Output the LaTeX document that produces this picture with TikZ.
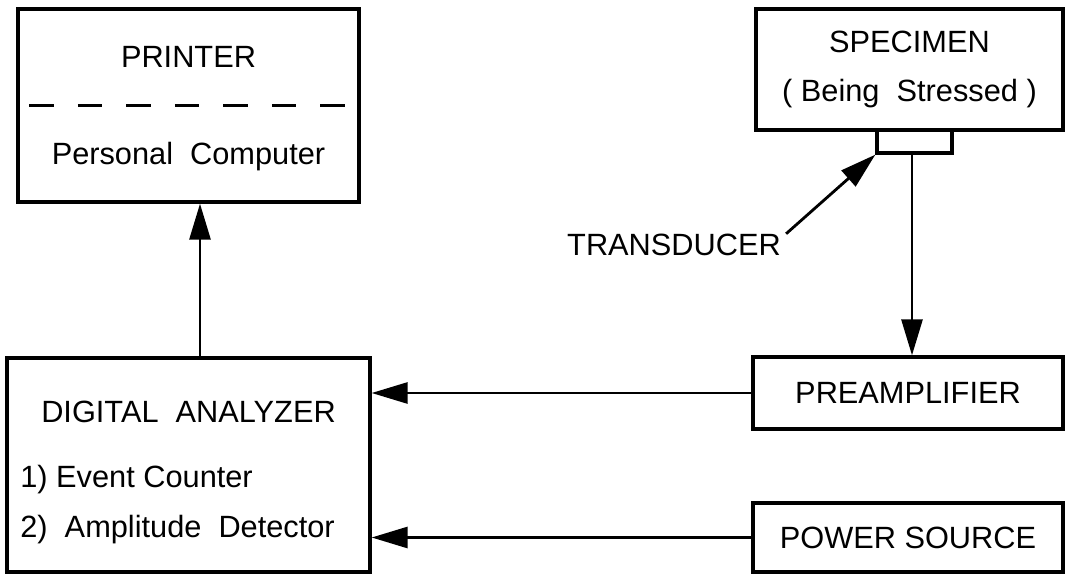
\documentclass[tikz,border=0pt]{standalone}
\usepackage{fontspec}
\setmainfont{Liberation Sans}
\usetikzlibrary{arrows.meta,positioning}

\begin{document}
\begin{tikzpicture}[
    x=0.02cm,y=-0.02cm,
    box/.style={draw,line width=1.9pt,rectangle,inner sep=0pt},
    lbl/.style={inner sep=0pt,font=\fontsize{17.5}{21}\selectfont},
    arr/.style={-{Triangle[length=0.72cm,width=0.42cm]},line width=1.6pt},
    dashline/.style={line width=1.9pt,dash pattern=on 0.49cm off 0.48cm}
  ]
    \useasboundingbox (0,0) rectangle (1066,574);
    % left column
    \node[box,minimum width=6.82cm,minimum height=3.86cm] (printer) at (188.5,105.5) {};
    \node[lbl] (printertxt) at (188.5,57) {PRINTER};
    \node[lbl] (pctxt) at (188.5,157) {Personal~ Computer};
    \draw[dashline] ([xshift=0.26cm]printer.west) -- ([xshift=-0.28cm]printer.east);
    \node[box,minimum width=7.26cm,minimum height=4.28cm] (analyzer) at (188.5,465) {};
    \node[lbl] (analyzertxt) at (188.5,412) {DIGITAL~ ANALYZER};
    \node[lbl,anchor=west] (counter) at (20,480) {1) Event Counter};
    \node[lbl,anchor=west] (detector) at (20,530) {2)~ Amplitude~ Detector};
    % right column
    \node[box,lbl,minimum width=6.14cm,minimum height=2.42cm,align=center] (specimen) at (909.5,69.5) {SPECIMEN\\[7pt]( Being~ Stressed )};
    \node[box,minimum width=1.5cm,minimum height=0.46cm] (transducer) at (914.5,141.5) {};
    \node[lbl] (transducertxt) at (674,245) {TRANSDUCER};
    \node[box,lbl,minimum width=6.2cm,minimum height=1.44cm] (preamp) at (908,393) {PREAMPLIFIER};
    \node[box,lbl,minimum width=6.2cm,minimum height=1.38cm] (power) at (908,537.5) {POWER SOURCE};
    % connectors
    \draw[arr] ([xshift=0.1cm]transducertxt.north east) -- (transducer.south west);
    \draw[arr] ([xshift=-0.05cm]transducer.south) -- ([xshift=-0.05cm]transducer.south |- preamp.north);
    \draw[arr] ([xshift=0.23cm]analyzer.north) -- ([xshift=0.23cm]analyzer.north |- printer.south);
    \draw[arr] (preamp.west) -- (preamp.west -| analyzer.east);
    \draw[arr] (power.west) -- (power.west -| analyzer.east);
\end{tikzpicture}
\end{document}
